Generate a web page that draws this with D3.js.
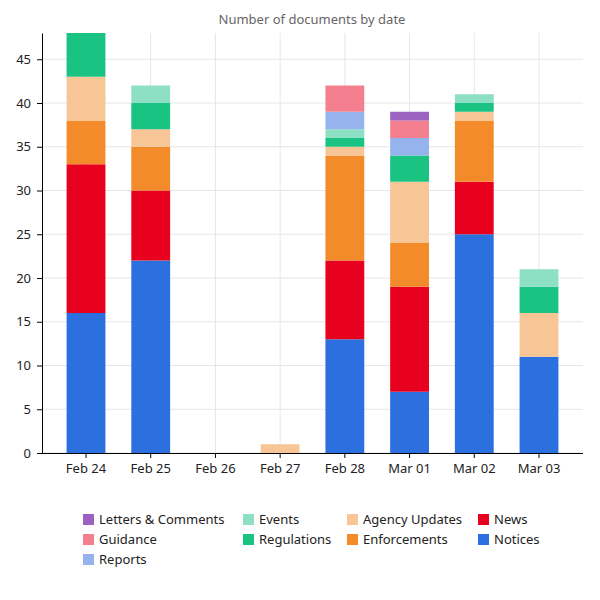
<!DOCTYPE html>
<html><head><meta charset="utf-8">
<script src="https://cdn.jsdelivr.net/npm/d3@7"></script>
<style>body{margin:0;background:#fff;} text{font-family:"Noto Sans",sans-serif;}</style>
</head><body><svg id="c" width="600" height="600"></svg>
<script>
const dates = ["Feb 24","Feb 25","Feb 26","Feb 27","Feb 28","Mar 01","Mar 02","Mar 03"];
const seriesNames = ["Notices","News","Enforcements","Agency Updates","Regulations","Events","Reports","Guidance","Letters & Comments"];
const notices       = [16,22,0,0,13,7,25,11];
const news          = [17,8,0,0,9,12,6,0];
const enforcements  = [5,5,0,0,12,5,7,0];
const agencyUpdates = [5,2,0,1,1,7,1,5];
const regulations   = [5,3,0,0,1,3,1,3];
const events        = [0,2,0,0,1,0,1,2];
const reports       = [0,0,0,0,2,2,0,0];
const guidance      = [0,0,0,0,3,2,0,0];
const letters       = [0,0,0,0,0,1,0,0];
const colors = ["#2c6fde","#e8001f","#f38b2a","#f8c596","#1bc383","#8de0c4","#95b4ee","#f4808f","#9b62c2"];
const yTicks = [0,5,10,15,20,25,30,35,40,45];
const legendCols = [["Letters & Comments","Guidance","Reports"],["Events","Regulations"],["Agency Updates","Enforcements"],["News","Notices"]];

const valuesBySeries = [notices,news,enforcements,agencyUpdates,regulations,events,reports,guidance,letters];
const rows = dates.map((d,i)=>{const r={date:d}; seriesNames.forEach((s,j)=>r[s]=valuesBySeries[j][i]); return r;});
const stack = d3.stack().keys(seriesNames)(rows);
const color = d3.scaleOrdinal(seriesNames, colors);

const svg = d3.select("#c");
const m = {l:42, r:583, t:33, b:453};
const x = d3.scaleBand().domain(dates).range([m.l, m.r]).paddingInner(0.4).paddingOuter(0.38);
const y = d3.scaleLinear().domain([0,48]).range([m.b, m.t]);

svg.append("text").attr("x",312).attr("y",24).attr("text-anchor","middle").attr("font-size",13).attr("fill","#666").text("Number of documents by date");

// grid
svg.append("g").selectAll("line").data(yTicks).join("line")
  .attr("x1",m.l).attr("x2",m.r).attr("y1",d=>y(d)).attr("y2",d=>y(d)).attr("stroke","#e6e6e6");
svg.append("g").selectAll("line").data(dates).join("line")
  .attr("x1",d=>x(d)+x.bandwidth()/2).attr("x2",d=>x(d)+x.bandwidth()/2).attr("y1",m.t).attr("y2",m.b).attr("stroke","#e6e6e6");

const clip = svg.append("clipPath").attr("id","clp").append("rect").attr("x",m.l).attr("y",m.t).attr("width",m.r-m.l).attr("height",m.b-m.t);
svg.append("g").attr("clip-path","url(#clp)").selectAll("g").data(stack).join("g").attr("fill",d=>color(d.key))
  .selectAll("rect").data(d=>d).join("rect")
  .attr("x",d=>x(d.data.date)).attr("width",x.bandwidth())
  .attr("y",d=>y(d[1])).attr("height",d=>y(d[0])-y(d[1]));

const xa = svg.append("g").attr("transform",`translate(0,${m.b})`).call(d3.axisBottom(x).tickSize(5).tickPadding(6).tickSizeOuter(0));
const ya = svg.append("g").attr("transform",`translate(${m.l},0)`).call(d3.axisLeft(y).tickValues(yTicks).tickSize(5).tickPadding(6).tickSizeOuter(0));
[xa,ya].forEach(a=>{a.selectAll("text").attr("font-size",13).attr("fill","#222").attr("font-family","Noto Sans, sans-serif"); a.select(".domain").attr("stroke","#000"); a.selectAll(".tick line").attr("stroke","#000");});
xa.select(".domain").attr("d",`M${m.l},0.5H${m.r}`);

// legend
const colX = [83,243,347,478];
legendCols.forEach((col,ci)=>{
  col.forEach((name,ri)=>{
    const g = svg.append("g").attr("transform",`translate(${colX[ci]},${514+ri*20})`);
    g.append("rect").attr("width",11).attr("height",11).attr("fill",color(name));
    g.append("text").attr("x",16).attr("y",10).attr("font-size",13).attr("fill","#222").text(name);
  });
});
</script></body></html>
